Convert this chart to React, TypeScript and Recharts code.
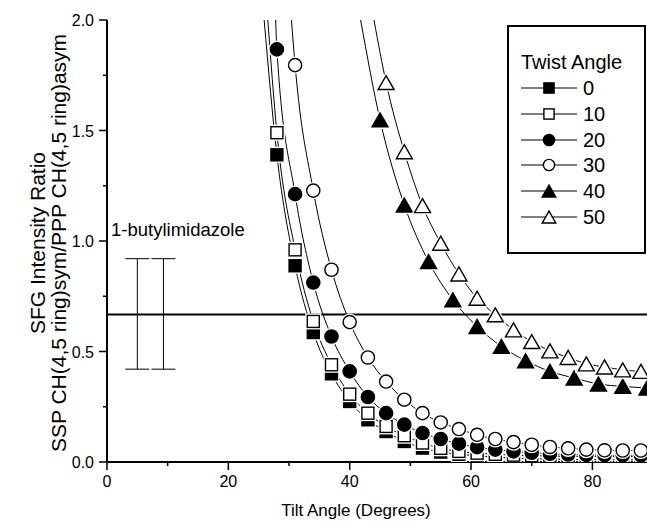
import {
  ComposedChart,
  Line,
  Scatter,
  XAxis,
  YAxis,
  ReferenceLine,
  ErrorBar,
} from "recharts";

// tilt angle grids (degrees)
const tiltA = [28, 31, 34, 37, 40, 43, 46, 49, 52, 55, 58, 61, 64, 67, 70, 73, 76, 79, 82, 85, 88];
const tiltB = [31, 34, 37, 40, 43, 46, 49, 52, 55, 58, 61, 64, 67, 70, 73, 76, 79, 82, 85, 88];
const tiltC = [45, 49, 53, 57, 61, 65, 69, 73, 77, 81, 85, 89];
const tiltD = [46, 49, 52, 55, 58, 61, 64, 67, 70, 73, 76, 79, 82, 85, 88];

// SFG intensity ratio per twist angle
const twist0 = [1.39, 0.888, 0.586, 0.399, 0.274, 0.191, 0.138, 0.093, 0.063, 0.045, 0.035, 0.028, 0.022, 0.018, 0.015, 0.013, 0.012, 0.011, 0.01, 0.01, 0.01];
const twist10 = [1.49, 0.96, 0.636, 0.44, 0.307, 0.221, 0.161, 0.119, 0.086, 0.062, 0.048, 0.04, 0.035, 0.031, 0.029, 0.027, 0.026, 0.025, 0.025, 0.025, 0.025];
const twist20 = [1.867, 1.212, 0.812, 0.568, 0.41, 0.294, 0.221, 0.169, 0.131, 0.104, 0.083, 0.067, 0.056, 0.048, 0.042, 0.037, 0.034, 0.032, 0.031, 0.03, 0.03];
const twist30 = [1.796, 1.228, 0.87, 0.633, 0.473, 0.364, 0.282, 0.221, 0.179, 0.149, 0.123, 0.104, 0.09, 0.078, 0.068, 0.062, 0.056, 0.053, 0.052, 0.052];
const twist40 = [1.548, 1.163, 0.907, 0.734, 0.613, 0.523, 0.458, 0.41, 0.38, 0.353, 0.342, 0.335];
const twist50 = [1.717, 1.404, 1.16, 0.99, 0.851, 0.741, 0.666, 0.598, 0.545, 0.503, 0.473, 0.444, 0.43, 0.417, 0.41];

// where each curve leaves the top of the plot
const curveTopX = [25.9, 26.5, 27.8, 30.4, 41.8, 44.0];

// measured 1-butylimidazole ratio
const expTilt = [5, 9.3];
const expRatio = [0.67, 0.67];
const expErr = [0.25, 0.25];
const expLevel = 0.667;

const xTicks = [0, 10, 20, 30, 40, 50, 60, 70, 80];
const yTicks = [0, 0.25, 0.5, 0.75, 1, 1.25, 1.5, 1.75, 2];

const FONT = "'Liberation Sans', Arial, sans-serif";

type Kind = "square" | "circle" | "triangle";

const seriesDefs = [
  { name: "0", xs: tiltA, ys: twist0, kind: "square" as Kind, filled: true },
  { name: "10", xs: tiltA, ys: twist10, kind: "square" as Kind, filled: false },
  { name: "20", xs: tiltA, ys: twist20, kind: "circle" as Kind, filled: true },
  { name: "30", xs: tiltB, ys: twist30, kind: "circle" as Kind, filled: false },
  { name: "40", xs: tiltC, ys: twist40, kind: "triangle" as Kind, filled: true },
  { name: "50", xs: tiltD, ys: twist50, kind: "triangle" as Kind, filled: false },
];

const series = seriesDefs.map((s, i) => ({
  ...s,
  points: s.xs.map((x, j) => ({ x, y: s.ys[j] })),
  curve: [{ x: curveTopX[i], y: 2 }, ...s.xs.map((x, j) => ({ x, y: s.ys[j] }))],
}));

const expData = expTilt.map((x, i) => ({ x, y: expRatio[i], e: expErr[i] }));

function shapeEl(kind: Kind, cx: number, cy: number, scale: number, props: any) {
  if (kind === "square") {
    const h = 6 * scale;
    return <rect x={cx - h} y={cy - h} width={2 * h} height={2 * h} {...props} />;
  }
  if (kind === "circle") {
    return <circle cx={cx} cy={cy} r={6.6 * scale} {...props} />;
  }
  const w = 8 * scale;
  const h = 7 * scale;
  return (
    <polygon
      points={`${cx},${cy - h} ${cx + w},${cy + h} ${cx - w},${cy + h}`}
      {...props}
    />
  );
}

function Marker({ cx, cy, kind, filled, scale = 1, halo = true }: any) {
  if (cx == null || cy == null) return <g />;
  return (
    <g>
      {halo && shapeEl(kind, cx, cy, scale, { fill: "#fff", stroke: "#fff", strokeWidth: 4 })}
      {shapeEl(kind, cx, cy, scale, {
        fill: filled ? "#000" : "#fff",
        stroke: "#000",
        strokeWidth: 1.4,
      })}
    </g>
  );
}

const XTick = ({ x, y, payload }: any) => {
  const major = payload.value % 20 === 0;
  return (
    <g>
      <line x1={x} x2={x} y1={y} y2={y + (major ? 8 : 4)} stroke="#000" strokeWidth={1.5} />
      {major && (
        <text x={x} y={y + 25} textAnchor="middle" fontSize={16} fontFamily={FONT} fill="#000">
          {payload.value}
        </text>
      )}
    </g>
  );
};

const YTick = ({ x, y, payload }: any) => {
  const major = Math.abs(payload.value * 2 - Math.round(payload.value * 2)) < 1e-6;
  return (
    <g>
      <line x1={x - (major ? 8 : 4)} x2={x} y1={y} y2={y} stroke="#000" strokeWidth={1.5} />
      {major && (
        <text x={x - 13} y={y + 6} textAnchor="end" fontSize={16} fontFamily={FONT} fill="#000">
          {payload.value.toFixed(1)}
        </text>
      )}
    </g>
  );
};

const YLabel = () => (
  <g fontFamily={FONT} fontSize={21} fill="#000">
    <text transform="translate(45,243) rotate(-90)" textAnchor="middle">
      SFG Intensity Ratio
    </text>
    <text transform="translate(66,243) rotate(-90)" textAnchor="middle">
      SSP CH(4,5 ring)sym/PPP CH(4,5 ring)asym
    </text>
  </g>
);

const XLabel = () => (
  <text x={356} y={516} textAnchor="middle" fontFamily={FONT} fontSize={17} fill="#000">
    Tilt Angle (Degrees)
  </text>
);

function LegendBox() {
  return (
    <div
      style={{
        position: "absolute",
        left: 507,
        top: 25,
        width: 135,
        height: 225,
        border: "2px solid #000",
        background: "#fff",
        fontFamily: FONT,
        color: "#000",
      }}
    >
      <div style={{ position: "absolute", left: 12, top: 24, fontSize: 20, lineHeight: "22px", whiteSpace: "nowrap" }}>
        Twist Angle
      </div>
      {series.map((s, i) => (
        <div key={s.name} style={{ position: "absolute", left: 12, top: 50 + i * 25.8, height: 22, display: "flex", alignItems: "center" }}>
          <svg width={57} height={22}>
            <line x1={0} x2={56} y1={11} y2={11} stroke="#000" strokeWidth={1} />
            <Marker cx={28} cy={11} kind={s.kind} filled={s.filled} scale={0.85} halo={false} />
          </svg>
          <span style={{ fontSize: 20, lineHeight: "22px", marginLeft: 5 }}>{s.name}</span>
        </div>
      ))}
    </div>
  );
}

export default function App() {
  return (
    <div style={{ position: "absolute", left: 0, top: 0, width: 647, height: 527, background: "#fff" }}>
      <ComposedChart width={647} height={527} margin={{ top: 20, right: 0, bottom: 0, left: 0 }}>
        <XAxis
          type="number"
          dataKey="x"
          domain={[0, 89]}
          ticks={xTicks}
          allowDataOverflow
          interval={0}
          tickSize={0}
          tickMargin={0}
          height={65}
          axisLine={{ stroke: "#000", strokeWidth: 2 }}
          tick={<XTick />}
          label={<XLabel />}
        />
        <YAxis
          type="number"
          dataKey="y"
          domain={[0, 2]}
          ticks={yTicks}
          allowDataOverflow
          interval={0}
          tickSize={0}
          tickMargin={0}
          width={107}
          axisLine={{ stroke: "#000", strokeWidth: 2 }}
          tick={<YTick />}
          label={<YLabel />}
        />
        <ReferenceLine y={expLevel} stroke="#000" strokeWidth={2} />
        {series.map((s) => (
          <Line
            key={"l" + s.name}
            data={s.curve}
            dataKey="y"
            type="monotone"
            stroke="#000"
            strokeWidth={1}
            dot={false}
            activeDot={false}
            isAnimationActive={false}
          />
        ))}
        {series.map((s) => (
          <Scatter
            key={"m" + s.name}
            data={s.points}
            dataKey="y"
            isAnimationActive={false}
            shape={(p: any) => <Marker cx={p.cx} cy={p.cy} kind={s.kind} filled={s.filled} />}
          />
        ))}
        <Scatter data={expData} dataKey="y" isAnimationActive={false} shape={() => <g />}>
          <ErrorBar dataKey="e" direction="y" width={12} stroke="#000" strokeWidth={1} />
        </Scatter>
      </ComposedChart>
      <div
        style={{
          position: "absolute",
          left: 111,
          top: 219,
          fontFamily: FONT,
          fontSize: 18.5,
          lineHeight: "22px",
          whiteSpace: "nowrap",
        }}
      >
        1-butylimidazole
      </div>
      <LegendBox />
    </div>
  );
}
